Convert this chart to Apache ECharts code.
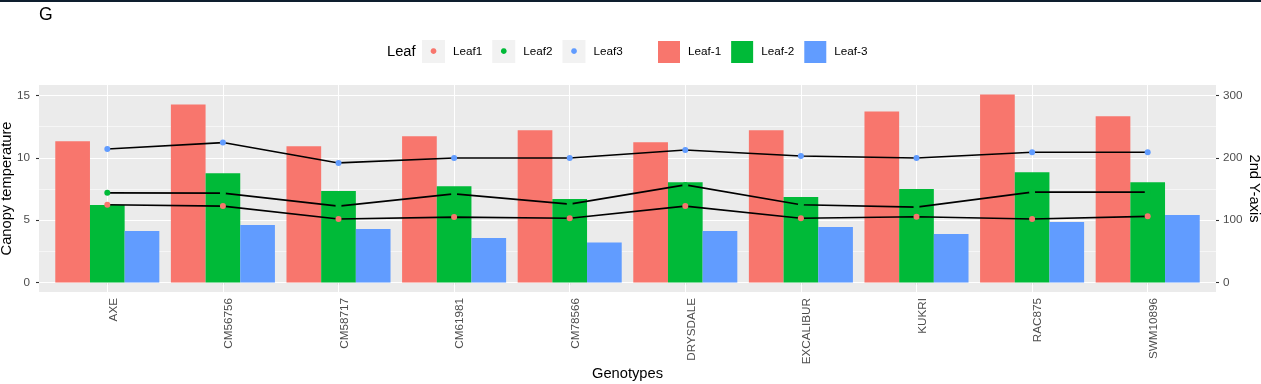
<!DOCTYPE html>
<html>
<head>
<meta charset="utf-8">
<script src="https://cdn.jsdelivr.net/npm/echarts@6/dist/echarts.min.js"></script>
<style>
html,body{margin:0;padding:0;background:#fff;}
#chart{width:1261px;height:384px;}
</style>
</head>
<body>
<div id="chart"></div>
<script>
// ---- data ----
const genotypes = ['AXE','CM56756','CM58717','CM61981','CM78566','DRYSDALE','EXCALIBUR','KUKRI','RAC875','SWM10896'];
const barLeaf1 = [11.33, 14.28, 10.93, 11.73, 12.20, 11.25, 12.20, 13.72, 15.08, 13.33];
const barLeaf2 = [6.21, 8.77, 7.33, 7.73, 6.69, 8.05, 6.85, 7.49, 8.85, 8.05];
const barLeaf3 = [4.13, 4.61, 4.29, 3.57, 3.22, 4.13, 4.45, 3.89, 4.85, 5.41];
const lineLeaf1 = [6.24, 6.13, 5.09, 5.25, 5.15, 6.13, 5.15, 5.28, 5.09, 5.31];
const lineLeaf2 = [7.19, 7.17, 6.13, 7.11, 6.29, 7.83, 6.24, 6.05, 7.25, 7.25];
const lineLeaf3 = [10.71, 11.22, 9.59, 9.99, 9.99, 10.63, 10.15, 9.99, 10.45, 10.45];
const leftTicks = [0, 5, 10, 15];
const rightTicks = [0, 100, 200, 300];
const minorTicks = [2.5, 7.5, 12.5];
const secondAxisFactor = 20;
const barNames = ['Leaf-1','Leaf-2','Leaf-3'];
const lineNames = ['Leaf1','Leaf2','Leaf3'];
const colors = ['#F8766D', '#00BA38', '#619CFF'];

// ---- layout ----
const FONT = "'Liberation Sans', Arial, Helvetica, sans-serif";
const dMax = Math.max(...barLeaf1, ...barLeaf2, ...barLeaf3, ...lineLeaf1, ...lineLeaf2, ...lineLeaf3);
const yMin = -0.05 * dMax, yMax = dMax * 1.05;
const panelL = 39, panelR = 45, panelT = 85, panelB = 92;
const panelW = 1261 - panelL - panelR;
const band = panelW / (genotypes.length + 1.2);
const off = 0.1 * band;

const chart = echarts.init(document.getElementById('chart'), null, {renderer: 'canvas'});

const gridLineSeries = {
  type: 'line', xAxisIndex: 0, yAxisIndex: 0, data: [], z: 1, silent: true,
  markLine: {
    silent: true, symbol: ['none','none'], label: {show: false}, z: 1, animation: false,
    emphasis: {disabled: true},
    data: [
      ...minorTicks.map(v => ({yAxis: v, lineStyle: {color: '#FFFFFF', width: 0.55, type: 'solid'}})),
      ...leftTicks.map(v => ({yAxis: v, lineStyle: {color: '#FFFFFF', width: 1.1, type: 'solid'}}))
    ]
  }
};
const vGridSeries = {
  type: 'line', xAxisIndex: 1, yAxisIndex: 2, data: [], z: 1, silent: true,
  markLine: {
    silent: true, symbol: ['none','none'], label: {show: false}, z: 1, animation: false,
    emphasis: {disabled: true},
    data: genotypes.map(g => ({xAxis: g, lineStyle: {color: '#FFFFFF', width: 1.1, type: 'solid'}}))
  }
};
const barData = [barLeaf1, barLeaf2, barLeaf3];
const lineData = [lineLeaf1, lineLeaf2, lineLeaf3];
const barSeries = barData.map((d, i) => ({
  name: barNames[i], type: 'bar', xAxisIndex: 1, yAxisIndex: 2, data: d,
  barGap: '0%', barCategoryGap: '10%', z: 2,
  itemStyle: {color: colors[i]}
}));
const lineSeries = lineData.map((d, i) => ({
  name: lineNames[i], type: 'line', xAxisIndex: 1, yAxisIndex: 2, data: d,
  symbol: 'circle', symbolSize: 6, showSymbol: true, z: 3,
  lineStyle: {color: '#000000', width: 1.6},
  itemStyle: {color: colors[i], borderWidth: 0}
}));

const tickLabelStyle = {fontSize: 11.7, color: '#4D4D4D', fontFamily: FONT};
const keyStyle = c => ({color: c, backgroundColor: '#F2F2F2', width: 23, height: 23, lineHeight: 23, align: 'center', verticalAlign: 'middle', fontSize: 7.5, fontFamily: "'DejaVu Sans', sans-serif"});

const option = {
  animation: false,
  textStyle: {fontFamily: FONT},
  graphic: [{type: 'rect', left: 0, top: 0, shape: {width: 1261, height: 2}, style: {fill: '#0E1E2E'}}],
  title: [
    {text: 'G', left: 39, top: 6, padding: 0, textStyle: {fontSize: 17.6, fontWeight: 'normal', color: '#000', fontFamily: FONT}},
    {text: 'Leaf', left: 387, top: 44, padding: 0, textStyle: {fontSize: 14.7, fontWeight: 'normal', color: '#000', fontFamily: FONT}}
  ],
  legend: [
    {
      data: lineNames, left: 417, top: 40, padding: 0, itemWidth: 0, itemHeight: 0, itemGap: 5,
      icon: 'rect', selectedMode: false,
      formatter: function (name) { const i = lineNames.indexOf(name); return '{k' + i + '|●}{t|' + name + '}'; },
      textStyle: {
        fontFamily: FONT, fontSize: 11.7, color: '#000',
        rich: {
          k0: keyStyle(colors[0]), k1: keyStyle(colors[1]), k2: keyStyle(colors[2]),
          t: {fontSize: 11.7, color: '#000', fontFamily: FONT, padding: [0, 0, 0, 8]}
        }
      }
    },
    {
      data: barNames, left: 658, top: 41, padding: 0, itemWidth: 22, itemHeight: 22, itemGap: 10,
      icon: 'rect', selectedMode: false,
      textStyle: {fontFamily: FONT, fontSize: 11.7, color: '#000', padding: [0, 0, 0, 3]}
    }
  ],
  grid: [
    {left: panelL, right: panelR, top: panelT, bottom: panelB, show: true, backgroundColor: '#EBEBEB', borderWidth: 0, containLabel: false, outerBoundsMode: 'none'},
    {left: panelL + off, right: panelR + off, top: panelT, bottom: panelB, containLabel: false, outerBoundsMode: 'none'}
  ],
  xAxis: [
    {type: 'value', gridIndex: 0, min: 0, max: 1, show: false},
    {
      type: 'category', gridIndex: 1, data: genotypes, position: 'bottom',
      axisLine: {show: false},
      axisTick: {show: true, alignWithLabel: true, length: 3, lineStyle: {color: '#333333', width: 1.1}},
      axisLabel: Object.assign({rotate: 90, margin: 6, interval: 0, verticalAlign: 'top', hideOverlap: false}, tickLabelStyle),
      splitLine: {show: false},
      name: 'Genotypes', nameLocation: 'middle', nameGap: 74, nameMoveOverlap: false,
      nameTextStyle: {fontSize: 14.7, color: '#000', fontFamily: FONT}
    }
  ],
  yAxis: [
    {
      type: 'value', gridIndex: 0, min: yMin, max: yMax, position: 'left',
      axisLine: {show: false}, splitLine: {show: false},
      axisTick: {show: true, length: 3, customValues: leftTicks, lineStyle: {color: '#333333', width: 1.1}},
      axisLabel: Object.assign({margin: 9, customValues: leftTicks}, tickLabelStyle),
      name: 'Canopy temperature', nameLocation: 'middle', nameGap: 25, nameRotate: 90, nameMoveOverlap: false,
      nameTextStyle: {fontSize: 14.7, color: '#000', fontFamily: FONT}
    },
    {
      type: 'value', gridIndex: 0, min: yMin * secondAxisFactor, max: yMax * secondAxisFactor, position: 'right',
      axisLine: {show: false}, splitLine: {show: false},
      axisTick: {show: true, length: 3, customValues: rightTicks, lineStyle: {color: '#333333', width: 1.1}},
      axisLabel: Object.assign({margin: 7, customValues: rightTicks}, tickLabelStyle),
      name: '2nd Y-axis', nameLocation: 'middle', nameGap: 31, nameRotate: -90, nameMoveOverlap: false,
      nameTextStyle: {fontSize: 14.7, color: '#000', fontFamily: FONT}
    },
    {type: 'value', gridIndex: 1, min: yMin, max: yMax, show: false}
  ],
  series: [gridLineSeries, vGridSeries, ...barSeries, ...lineSeries]
};
chart.setOption(option);
</script>
</body>
</html>
